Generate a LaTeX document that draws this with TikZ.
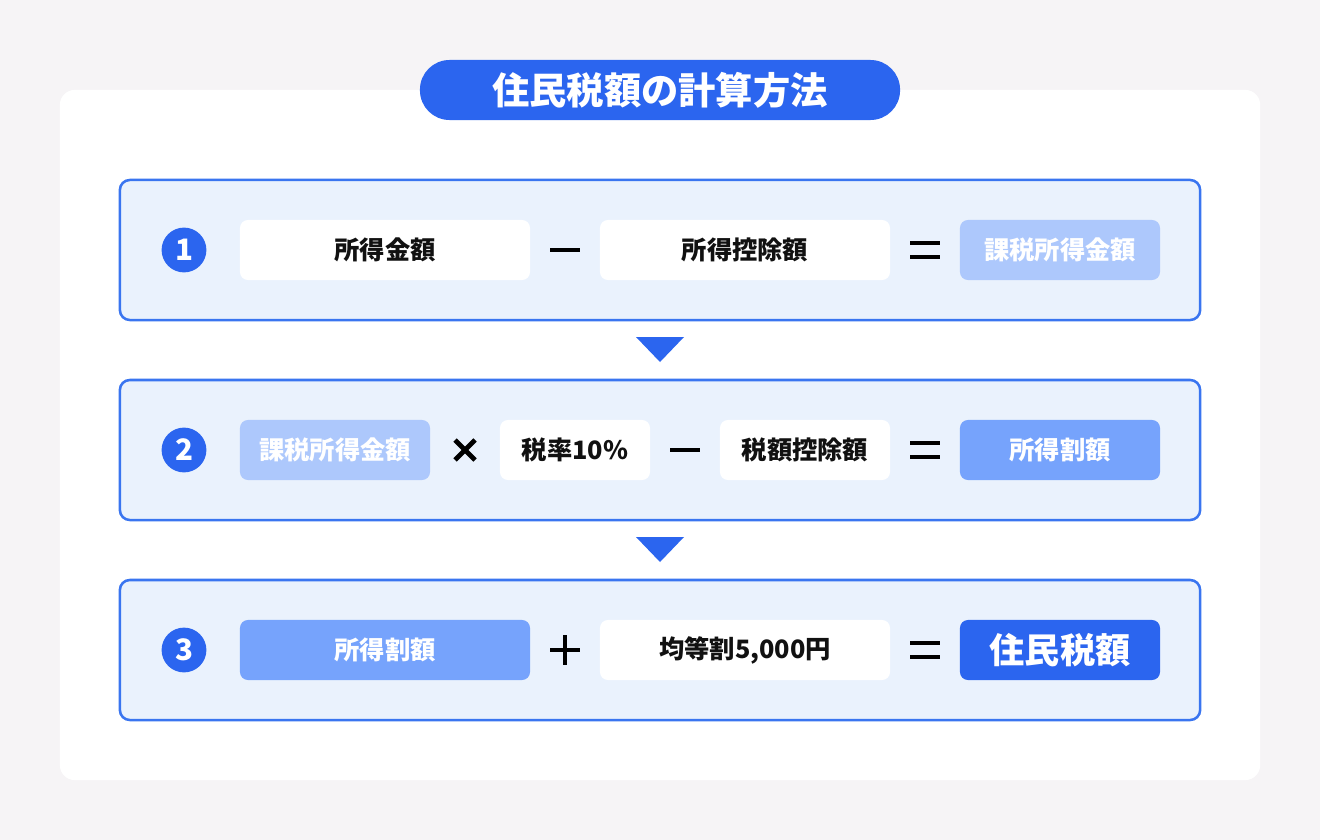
\documentclass[tikz,border=0pt]{standalone}
\usepackage{fontspec}
\setmainfont{Noto Sans CJK JP}
\usepackage{tikz}
\usetikzlibrary{calc}
\definecolor{mainblue}{HTML}{2B65EF}
\definecolor{rowfill}{HTML}{EAF2FD}
\definecolor{rowline}{HTML}{3A75F0}
\definecolor{paleblue}{HTML}{ADC8FC}
\definecolor{midblue}{HTML}{76A3FC}
\definecolor{pagegray}{HTML}{F6F4F6}
\definecolor{inktext}{HTML}{111111}
\tikzset{
  card/.style={fill=white, rounded corners=0.375cm, minimum width=30cm, minimum height=17.25cm, inner sep=0pt},
  titlepill/.style={fill=mainblue, text=white, rounded corners=0.74cm, minimum width=12cm, minimum height=1.5cm,
    inner sep=0pt, font=\bfseries\fontsize{26.5pt}{26.5pt}\selectfont},
  rowbox/.style={draw=rowline, fill=rowfill, line width=1.8pt, rounded corners=0.25cm,
    minimum width=27cm, minimum height=3.5cm, inner sep=0pt},
  numdot/.style={circle, fill=mainblue, text=white, minimum size=1.12cm, inner sep=0pt,
    font=\bfseries\fontsize{21pt}{21pt}\selectfont},
  termbox/.style={rounded corners=0.2cm, minimum height=1.5cm, minimum width=#1, inner sep=0pt,
    font=\bfseries\fontsize{18pt}{18pt}\selectfont},
  plain/.style={termbox=#1, fill=white, text=inktext},
  pale/.style={termbox=#1, fill=paleblue, text=white},
  mid/.style={termbox=#1, fill=midblue, text=white},
  result/.style={termbox=#1, fill=mainblue, text=white, font=\bfseries\fontsize{25pt}{25pt}\selectfont},
  opline/.style={line width=3.3pt, black},
  downtri/.style={fill=mainblue}
}

\begin{document}
\begin{tikzpicture}[x=0.025cm, y=-0.025cm]
\fill[pagegray] (0,0) rectangle (1320,840);
\useasboundingbox (0,0) rectangle (1320,840);
\node[card] (card) at (660,435) {};
\node[titlepill] (title) at (660,90) {住民税額の計算方法};
\foreach \i/\y in {1/250,2/450,3/650} {
  \node[rowbox] (r\i) at (660,\y) {};
  \node[numdot] (n\i) at (184,\y) {\i};
}
% row 1
\node[plain=7.25cm] (a1) at (385,250) {所得金額};
\node[plain=7.25cm] (a2) at (745,250) {所得控除額};
\node[pale=5cm] (a3) at (1060,250) {課税所得金額};
% row 2
\node[pale=4.75cm] (b1) at (335,450) {課税所得金額};
\node[plain=3.75cm] (b2) at (575,450) {税率10\%};
\node[plain=4.25cm] (b3) at (805,450) {税額控除額};
\node[mid=5cm] (b4) at (1060,450) {所得割額};
% row 3
\node[mid=7.25cm] (c1) at (385,650) {所得割額};
\node[plain=7.25cm] (c2) at (745,650) {均等割5,000円};
\node[result=5cm] (c3) at (1060,650) {住民税額};
% operators
\coordinate (m1) at ($(a1.east)!0.5!(a2.west)$);
\coordinate (e1) at ($(a2.east)!0.5!(a3.west)$);
\coordinate (t2) at ($(b1.east)!0.5!(b2.west)$);
\coordinate (m2) at ($(b2.east)!0.5!(b3.west)$);
\coordinate (e2) at ($(b3.east)!0.5!(b4.west)$);
\coordinate (p3) at ($(c1.east)!0.5!(c2.west)$);
\coordinate (e3) at ($(c2.east)!0.5!(c3.west)$);
\foreach \m in {m1,m2,p3}
  \draw[opline] ($(\m)+(-15,0)$) -- ($(\m)+(15,0)$);
\draw[opline] ($(p3)+(0,-15)$) -- ($(p3)+(0,15)$);
\draw[opline] ($(t2)+(-10,-10)$) -- ($(t2)+(10,10)$);
\draw[opline] ($(t2)+(-10,10)$) -- ($(t2)+(10,-10)$);
\foreach \e in {e1,e2,e3} {
  \draw[opline] ($(\e)+(-15,-7)$) -- ($(\e)+(15,-7)$);
  \draw[opline] ($(\e)+(-15,7)$) -- ($(\e)+(15,7)$);
}
% arrows between rows
\coordinate (d1) at ($(r1.south)!0.5!(r2.north)$);
\coordinate (d2) at ($(r2.south)!0.5!(r3.north)$);
\foreach \d in {d1,d2}
  \fill[downtri] ($(\d)+(-24,-13)$) -- ($(\d)+(24,-13)$) -- ($(\d)+(0,12)$) -- cycle;
\end{tikzpicture}
\end{document}
